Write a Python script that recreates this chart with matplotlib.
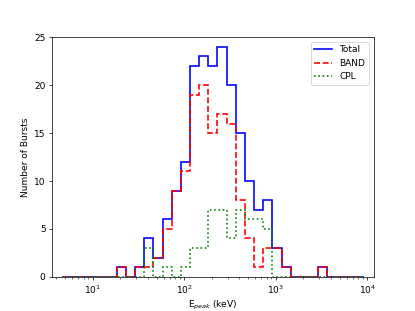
import numpy as np
import matplotlib.pyplot as plt

# log10 bin edges, 0.1 dex wide
log_edges = np.round(np.arange(0.665, 3.966, 0.1), 3)

# counts per bin
total = [0, 0, 0, 0, 0, 0,
         1, 0, 1, 4, 2, 6, 9, 12, 22, 23, 22, 24, 20, 15, 10, 7, 8, 3, 1, 0, 0, 0, 1,
         0, 0, 0, 0]
band = [0, 0, 0, 0, 0, 0,
        1, 0, 1, 1, 2, 5, 9, 11, 19, 20, 15, 17, 16, 8, 4, 1, 3, 3, 1, 0, 0, 0, 1,
        0, 0, 0, 0]
cpl = [0, 0, 0, 0, 0, 0,
       0, 0, 0, 3, 0, 1, 0, 1, 3, 3, 7, 7, 4, 7, 6, 6, 5, 0, 0, 0, 0, 0, 0,
       0, 0, 0, 0]


def main():
    edges = 10 ** log_edges

    fig, ax = plt.subplots(figsize=(415 / 65, 311 / 65), dpi=65)
    ax.stairs(total, edges, color='b', linestyle='-', linewidth=1.8, label='Total')
    ax.stairs(band, edges, color='r', linestyle='--', linewidth=1.8, label='BAND')
    ax.stairs(cpl, edges, color='g', linestyle=':', linewidth=1.8, label='CPL')

    ax.set_xscale('log')
    ax.set_xlim(10 ** 0.555, 10 ** 4.07)
    ax.set_ylim(0, 25)
    ax.set_xlabel('E$_{peak}$ (keV)')
    ax.set_ylabel('Number of Bursts')
    ax.legend(loc='upper right')
    plt.savefig('out.png')


if __name__ == '__main__':
    main()
